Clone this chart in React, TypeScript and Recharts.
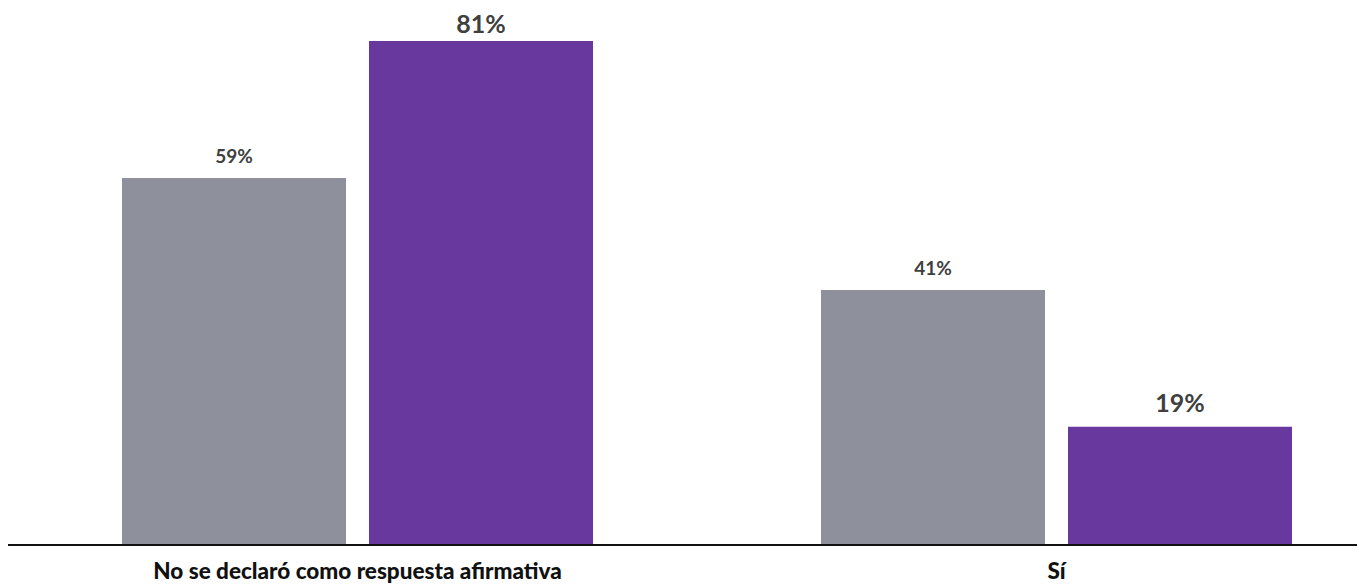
import { Bar, BarChart, LabelList, XAxis, YAxis } from 'recharts';

const categories = ['No se declaró como respuesta afirmativa', 'Sí'];
const grayValues = [59, 41];
const purpleValues = [81, 19];

const grayColor = '#8e919c';
const purpleColor = '#68389e';
const labelColor = '#404040';
const fontFamily = 'Lato, "Open Sans", sans-serif';

const chartData = categories.map((name, i) => ({
  name,
  gray: grayValues[i],
  purple: purpleValues[i],
}));

function CategoryTick(props: any) {
  const { x, y, payload } = props;
  return (
    <text x={x} y={y} dy={34} textAnchor="middle" fill="#111" fontFamily={fontFamily} fontSize={22.5} fontWeight={900}>
      {payload.value}
    </text>
  );
}

function valueLabel(fontSize: number) {
  return (props: any) => {
    const { x, y, width, value } = props;
    // keep the tallest label inside the frame
    const baseline = Math.max(y - 15, fontSize + 8);
    return (
      <text
        x={x + width / 2}
        y={baseline}
        textAnchor="middle"
        fill={labelColor}
        fontFamily={fontFamily}
        fontSize={fontSize}
        fontWeight={700}
      >
        {`${value}%`}
      </text>
    );
  };
}

export default function App() {
  return (
    <div style={{ position: 'fixed', left: 0, top: 0, width: 1357, height: 585, overflow: 'hidden', background: '#fff' }}>
      <BarChart
        width={1407}
        height={585}
        data={chartData}
        margin={{ top: 41, right: 1, bottom: 0, left: 8 }}
        barSize={224}
        barGap={23}
      >
        <XAxis
          dataKey="name"
          height={40}
          axisLine={{ stroke: '#111', strokeWidth: 2 }}
          tickLine={false}
          tickSize={0}
          tickMargin={0}
          tick={<CategoryTick />}
          interval={0}
        />
        <YAxis hide domain={[0, 81]} />
        <Bar dataKey="gray" fill={grayColor} isAnimationActive={false}>
          <LabelList dataKey="gray" content={valueLabel(19)} />
        </Bar>
        <Bar dataKey="purple" fill={purpleColor} isAnimationActive={false}>
          <LabelList dataKey="purple" content={valueLabel(25)} />
        </Bar>
      </BarChart>
    </div>
  );
}
